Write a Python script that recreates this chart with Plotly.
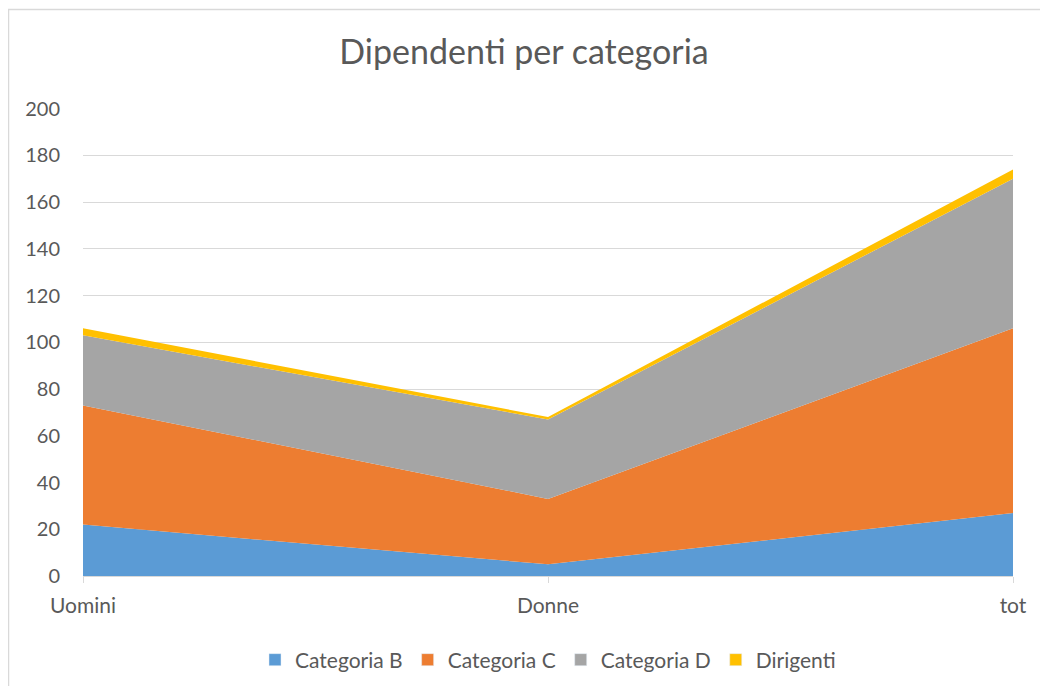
import plotly.graph_objects as go

categories = ["Uomini", "Donne", "tot"]
cat_b = [22, 5, 27]
cat_c = [51, 28, 79]
cat_d = [30, 34, 64]
dirigenti = [3, 1, 4]

series = [
    ("Categoria B", cat_b, "#5B9BD5"),
    ("Categoria C", cat_c, "#ED7D31"),
    ("Categoria D", cat_d, "#A5A5A5"),
    ("Dirigenti", dirigenti, "#FFC000"),
]

xpos = list(range(len(categories)))
fig = go.Figure()
for name, vals, col in series:
    fig.add_trace(go.Scatter(
        x=xpos, y=vals, name=name, mode="lines", stackgroup="one",
        line=dict(width=0, color=col), fillcolor=col,
        hoverinfo="x+y+name", showlegend=False,
    ))
# legend entries with square swatches
for name, vals, col in series:
    fig.add_trace(go.Bar(x=[None], y=[None], name=name, marker=dict(color=col),
                         showlegend=True, hoverinfo="skip"))

W, H = 1032, 678
L, R, T, B = 75, 27, 100, 110
PW = W - L - R
PH = H - T - B

font_family = "Lato, Open Sans, sans-serif"
fig.update_layout(
    width=W, height=H,
    margin=dict(l=L, r=R, t=T, b=B, autoexpand=False),
    paper_bgcolor="white", plot_bgcolor="white",
    font=dict(family=font_family, color="#595959", size=20),
    title=dict(text="Dipendenti per categoria", x=0.5, xanchor="center",
               y=1 - 44 / H, yanchor="middle", font=dict(size=34, color="#595959")),
    showlegend=True,
    legend=dict(orientation="h", x=0.5, xanchor="center", y=-(652 - (T + PH)) / PH,
                yanchor="middle", font=dict(size=21, color="#595959"),
                traceorder="normal", itemwidth=30),
    xaxis=dict(
        range=[0, 2], tickmode="array", tickvals=xpos, ticktext=categories,
        showgrid=False, showline=True, linecolor="#D9D9D9", linewidth=1,
        ticks="outside", ticklen=6, tickcolor="#D9D9D9", automargin=False,
        tickfont=dict(size=21, color="#595959"), zeroline=False,
        ticklabelstandoff=5,
    ),
    yaxis=dict(
        range=[0, 200.3], tickvals=list(range(0, 201, 20)), showgrid=True,
        gridcolor="#D9D9D9", gridwidth=1, showline=False, zeroline=False, ticks="",
        tickfont=dict(size=20, color="#595959"), ticklabelstandoff=22,
        automargin=False,
    ),
)
# chart-area border (left and top edges visible)
fig.add_shape(type="rect", xref="paper", yref="paper",
              x0=(0.5 - L) / PW, x1=(W + 20 - L) / PW,
              y0=-(H + 20 - T - PH) / PH, y1=1 + (T - 1.5) / PH,
              line=dict(color="#D9D9D9", width=1.5), layer="below")
fig.write_html("out.html")
